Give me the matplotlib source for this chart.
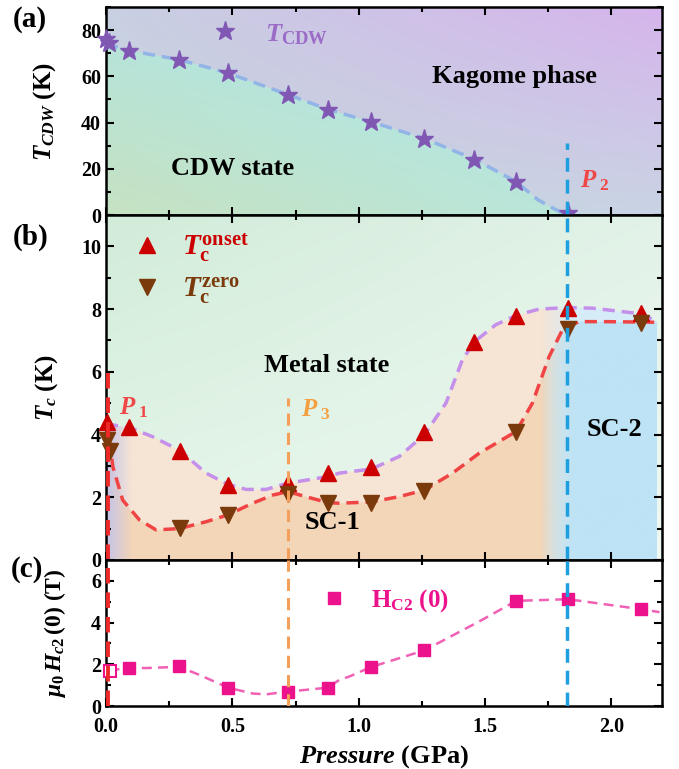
import numpy as np
import matplotlib
matplotlib.use("Agg")
import matplotlib.pyplot as plt
from matplotlib.patches import Polygon
from matplotlib.ticker import MultipleLocator
from matplotlib.colors import to_rgb

plt.rcParams['font.family'] = 'Liberation Serif'
plt.rcParams['font.weight'] = 'bold'
plt.rcParams['axes.labelweight'] = 'bold'
plt.rcParams['mathtext.fontset'] = 'custom'
plt.rcParams['mathtext.rm'] = 'Liberation Serif:bold'
plt.rcParams['mathtext.it'] = 'Liberation Serif:italic:bold'
plt.rcParams['mathtext.bf'] = 'Liberation Serif:bold'

# ---------------- data ----------------
# (a) CDW transition
cdw_p = [0.0, 0.01, 0.093, 0.29, 0.483, 0.72, 0.878, 1.048, 1.26, 1.458, 1.624, 1.827]
cdw_t = [76.0, 74.3, 70.8, 67.2, 61.5, 52.1, 45.6, 40.3, 33.1, 24.0, 14.4, 0.7]
cdw_guide_p = [0.0, 0.1, 0.29, 0.48, 0.72, 0.88, 1.05, 1.26, 1.46, 1.62, 1.71, 1.77, 1.82]
cdw_guide_t = [74.0, 71.0, 67.2, 61.5, 52.1, 45.6, 40.3, 33.1, 24.0, 14.6, 6.5, 2.9, 0.0]

# (b) superconducting Tc
on_p = [0.003, 0.093, 0.292, 0.483, 0.72, 0.878, 1.049, 1.26, 1.458, 1.623, 1.827, 2.118]
on_t = [4.41, 4.23, 3.49, 2.38, 2.47, 2.76, 2.96, 4.08, 6.96, 7.78, 8.05, 7.87]
zero_p = [0.003, 0.014, 0.292, 0.483, 0.72, 0.878, 1.049, 1.26, 1.623, 1.827, 2.118]
zero_t = [3.83, 3.49, 1.01, 1.44, 2.10, 1.81, 1.83, 2.21, 4.09, 7.37, 7.55]
up_p = [0.0, 0.1, 0.185, 0.29, 0.396, 0.48, 0.554, 0.633, 0.72, 0.878, 0.923, 1.05,
        1.16, 1.26, 1.345, 1.41, 1.458, 1.542, 1.623, 1.713, 1.827, 1.924, 2.043, 2.118, 2.18]
up_t = [4.35, 4.2, 3.93, 3.5, 2.77, 2.42, 2.25, 2.25, 2.45, 2.66, 2.77, 2.9,
        3.3, 4.0, 5.0, 6.38, 6.96, 7.5, 7.8, 8.0, 8.05, 8.03, 7.92, 7.85, 7.6]
lo_p = [0.014, 0.027, 0.066, 0.132, 0.198, 0.29, 0.396, 0.483, 0.58, 0.66, 0.72, 0.79,
        0.878, 0.923, 1.05, 1.16, 1.26, 1.371, 1.476, 1.623, 1.687, 1.753, 1.806, 1.871, 1.977, 2.18]
lo_t = [3.83, 2.98, 1.91, 1.28, 0.96, 1.0, 1.22, 1.44, 1.81, 2.07, 2.18, 2.02,
        1.83, 1.81, 1.85, 2.02, 2.23, 2.77, 3.4, 4.1, 5.0, 6.48, 7.34, 7.6, 7.6, 7.58]

# (c) upper critical field
hc_p = [0.014, 0.093, 0.29, 0.483, 0.72, 0.878, 1.049, 1.26, 1.623, 1.827, 2.118]
hc_v = [1.68, 1.84, 1.92, 0.88, 0.69, 0.88, 1.87, 2.67, 5.04, 5.12, 4.64]
hc_guide_p = [0.014, 0.093, 0.159, 0.29, 0.37, 0.483, 0.58, 0.633, 0.72, 0.878, 0.923,
              0.962, 1.049, 1.26, 1.476, 1.623, 1.827, 2.118, 2.19]
hc_guide_v = [1.7, 1.84, 1.82, 1.88, 1.49, 0.88, 0.6, 0.56, 0.69, 0.88, 1.25,
              1.41, 1.87, 2.67, 4.05, 5.04, 5.12, 4.64, 4.5]

P1, P2, P3 = 0.009, 1.825, 0.72

# ---------------- helpers ----------------
def grad(ax, extent, tl, tr, bl, br, clip=None, z=0):
    n = 200
    u = np.linspace(0, 1, n)[None, :, None]
    v = np.linspace(0, 1, n)[:, None, None]
    tl, tr, bl, br = [np.array(to_rgb(c)) for c in (tl, tr, bl, br)]
    top = (1 - u) * tl + u * tr
    bot = (1 - u) * bl + u * br
    img = (1 - v) * top + v * bot
    im = ax.imshow(img, extent=extent, origin='upper', aspect='auto',
                   interpolation='bilinear', zorder=z)
    if clip is not None:
        im.set_clip_path(clip)
    return im

def hfade(ax, extent, color, x0, x1, clip, z):
    # colour whose opacity changes along x between x0 and x1
    n = 300
    xs = np.linspace(extent[0], extent[1], n)
    a = np.clip((xs - x0) / (x1 - x0), 0, 1)
    img = np.zeros((2, n, 4))
    img[..., :3] = to_rgb(color)
    img[..., 3] = a[None, :]
    im = ax.imshow(img, extent=extent, origin='upper', aspect='auto',
                   interpolation='bilinear', zorder=z)
    im.set_clip_path(clip)

def style(ax, major, minor, labx):
    ax.set_xlim(0, 2.2)
    ax.xaxis.set_major_locator(MultipleLocator(0.5))
    ax.xaxis.set_minor_locator(MultipleLocator(0.25))
    ax.yaxis.set_major_locator(MultipleLocator(major))
    ax.yaxis.set_minor_locator(MultipleLocator(minor))
    ax.tick_params(which='both', direction='in', top=True, right=True, width=1.5,
                   labelsize=14.5)
    ax.tick_params(which='major', length=6)
    ax.tick_params(which='minor', length=3.5)
    ax.tick_params(axis='x', pad=8)
    for s in ax.spines.values():
        s.set_linewidth(1.8)
    for lab in ax.get_yticklabels() + ax.get_xticklabels():
        lab.set_fontweight('bold')
    ax.yaxis.set_label_coords(labx, 0.5)

fig = plt.figure(figsize=(6.79, 7.69), dpi=100)
L, W = 0.1561, 0.8189
ax_a = fig.add_axes([L, 0.7204, W, 0.2705])
ax_b = fig.add_axes([L, 0.2718, W, 0.4486])
ax_c = fig.add_axes([L, 0.0819, W, 0.1899])

# ---------------- (a) ----------------
ax = ax_a
grad(ax, (0, 2.2, 0, 90), '#c8d0e2', '#d6b4ec', '#c6d8da', '#c9d4e4', z=0)
cdw_poly = Polygon([(0, 0)] + list(zip(cdw_guide_p, cdw_guide_t)) + [(1.82, 0)],
                   closed=True, transform=ax.transData)
grad(ax, (0, 1.82, 0, 76), '#b6e4da', '#aee8ec', '#c6e2c2', '#bae6da', clip=cdw_poly, z=1)
ax.plot(cdw_guide_p, cdw_guide_t, color='#92b4e6', lw=2.5, dashes=(3.5, 2), zorder=3)
ax.plot(cdw_p, cdw_t, ls='none', marker='*', ms=14, color='#8058b4', zorder=4, clip_on=False)
ax.plot([0.47], [79.6], ls='none', marker='*', ms=14, color='#8058b4', zorder=4)
ax.text(0.63, 78, r'$T_{\mathrm{CDW}}$', color='#9a6cc8', fontsize=19, va='center')
ax.text(1.615, 60, 'Kagome phase', fontsize=19, ha='center', va='center')
ax.text(0.5, 20, 'CDW state', fontsize=19, ha='center', va='center')
ax.plot([P2, P2], [0, 31], color='#1ea0e0', lw=2.5, dashes=(4, 2.3), zorder=5)
ax.text(1.875, 15, r'$P_{\ 2}$', color='#f04848', fontsize=18, va='center')
ax.set_ylim(0, 90)
ax.set_ylabel(r'$T_{CDW}$ (K)', fontsize=18)
style(ax, 20, 10, -0.086)
ax.tick_params(labelbottom=False)

# ---------------- (b) ----------------
ax = ax_b
grad(ax, (0, 2.2, 0, 11), '#d2ecd9', '#e2f2e8', '#e6f6ea', '#f0f9f3', z=0)
up_poly_pts = [(0, 0)] + list(zip(up_p, up_t)) + [(2.18, 0)]
lo_poly_pts = [(0, 0), (0, lo_t[0])] + list(zip(lo_p, lo_t)) + [(2.18, 0)]
ax.add_patch(Polygon(up_poly_pts, closed=True, fc='#f6e4d4', ec='none', zorder=1))
ax.add_patch(Polygon(lo_poly_pts, closed=True, fc='#f3d5b8', ec='none', zorder=1.1))
up_clip = Polygon(up_poly_pts, closed=True, transform=ax.transData)
lo_clip = Polygon(lo_poly_pts, closed=True, transform=ax.transData)
hfade(ax, (1.6, 2.18, 0, 9), '#d6ecf8', 1.72, 1.86, up_clip, 1.2)
hfade(ax, (1.6, 2.18, 0, 9), '#bde3f5', 1.72, 1.86, lo_clip, 1.3)
lav_clip = Polygon(up_poly_pts, closed=True, transform=ax.transData)
lav = np.zeros((2, 100, 4))
lav[..., :3] = to_rgb('#c4c4ea')
lav[..., 3] = np.clip(1 - np.linspace(0, 0.12, 100) / 0.1, 0, 1)[None, :]
im = ax.imshow(lav, extent=(0, 0.12, 0, 5), origin='upper', aspect='auto',
               interpolation='bilinear', zorder=1.4)
im.set_clip_path(lav_clip)

ax.plot(up_p, up_t, color='#c490ea', lw=2.5, dashes=(3.5, 2), zorder=3)
ax.plot(lo_p, lo_t, color='#f04444', lw=2.5, dashes=(3.5, 2), zorder=3)
ax.plot(on_p, on_t, ls='none', marker='^', ms=11, color='#cc0000', zorder=4, clip_on=False)
ax.plot(zero_p, zero_t, ls='none', marker='v', ms=11, color='#7a3a0c', zorder=4.1, clip_on=False)
ax.plot([P1, P1], [0, 6.0], color='#f02828', lw=2.8, dashes=(4, 2.3), zorder=5)
ax.plot([P3, P3], [0, 5.17], color='#f5a05a', lw=2.2, dashes=(4, 2.3), zorder=5)
ax.axvline(P2, color='#1ea0e0', lw=2.5, dashes=(4, 2.3), zorder=5)
ax.text(0.05, 4.85, r'$P_{\ 1}$', color='#f04848', fontsize=18, va='center')
ax.text(0.77, 4.8, r'$P_{\ 3}$', color='#f5a040', fontsize=18, va='center')

ax.plot([0.163], [10.05], ls='none', marker='^', ms=11, color='#cc0000')
ax.plot([0.163], [8.7], ls='none', marker='v', ms=11, color='#7a3a0c')
ax.text(0.3, 9.95, r'$T_{\mathrm{c}}^{\mathrm{onset}}$', color='#cc0000', fontsize=21, va='center')
ax.text(0.3, 8.6, r'$T_{\mathrm{c}}^{\mathrm{zero}}$', color='#7a3a0c', fontsize=21, va='center')
ax.text(0.873, 6.2, 'Metal state', fontsize=19, ha='center', va='center')
ax.text(0.896, 1.18, 'SC-1', fontsize=19, ha='center', va='center')
ax.text(2.01, 4.15, 'SC-2', fontsize=19, ha='center', va='center')
ax.set_ylim(0, 11)
ax.set_ylabel(r'$T_c$ (K)', fontsize=18)
style(ax, 2, 1, -0.083)
ax.tick_params(labelbottom=False)

# ---------------- (c) ----------------
ax = ax_c
ax.set_facecolor('white')
ax.plot(hc_guide_p, hc_guide_v, color='#f060b4', lw=1.8, dashes=(4, 2.5), zorder=3)
ax.plot(hc_p[1:], hc_v[1:], ls='none', marker='s', ms=9, color='#ec128c', zorder=4)
ax.plot(hc_p[:1], hc_v[:1], ls='none', marker='s', ms=9, mfc='white', mec='#ec128c',
        mew=1.5, zorder=4, clip_on=False)
ax.plot([0.903], [5.17], ls='none', marker='s', ms=9, color='#ec128c')
ax.text(1.05, 5.05, r'H$_{\mathrm{C2}}$ (0)', color='#ec128c', fontsize=18, va='center')
ax.axvline(P1, color='#f02828', lw=2.8, dashes=(4, 2.3), zorder=5)
ax.axvline(P3, color='#f5a05a', lw=2.2, dashes=(4, 2.3), zorder=5)
ax.axvline(P2, color='#1ea0e0', lw=2.5, dashes=(4, 2.3), zorder=5)
ax.set_ylim(0, 7)
ax.set_ylabel(r'$\mu_0\,H_{c2}\,(0)$ (T)', fontsize=17)
ax.set_xlabel(r'$Pressure$ (GPa)', fontsize=19)
ax.set_xticks([0, 0.5, 1.0, 1.5, 2.0])
ax.set_xticklabels(['0.0', '0.5', '1.0', '1.5', '2.0'])
style(ax, 2, 1, -0.068)

fig.text(0.019, 0.974, '(a)', fontsize=21, va='center')
fig.text(0.019, 0.692, '(b)', fontsize=21, va='center')
fig.text(0.016, 0.259, '(c)', fontsize=21, va='center')

fig.savefig('out.png', dpi=100)
